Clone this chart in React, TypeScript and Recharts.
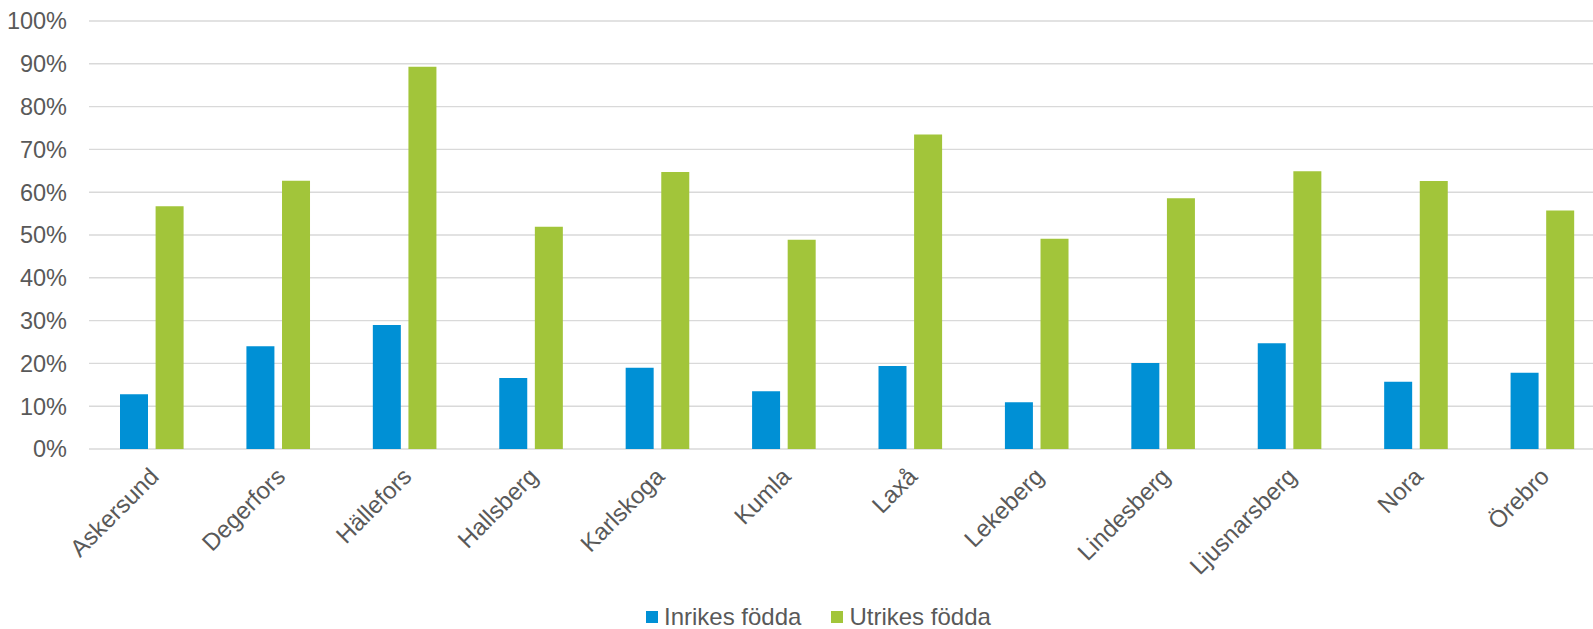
import { Bar, BarChart, CartesianGrid, Legend, XAxis, YAxis } from 'recharts';

const kommuner = [
  'Askersund',
  'Degerfors',
  'Hällefors',
  'Hallsberg',
  'Karlskoga',
  'Kumla',
  'Laxå',
  'Lekeberg',
  'Lindesberg',
  'Ljusnarsberg',
  'Nora',
  'Örebro',
];

const inrikesFodda = [0.128, 0.24, 0.29, 0.166, 0.19, 0.135, 0.194, 0.109, 0.201, 0.247, 0.157, 0.178];
const utrikesFodda = [0.567, 0.627, 0.893, 0.519, 0.647, 0.489, 0.735, 0.491, 0.586, 0.649, 0.626, 0.557];

const yTicks = [0, 0.1, 0.2, 0.3, 0.4, 0.5, 0.6, 0.7, 0.8, 0.9, 1];

const series = [
  { key: 'inrikes', name: 'Inrikes födda', color: '#0090d5' },
  { key: 'utrikes', name: 'Utrikes födda', color: '#a2c53a' },
];

const data = kommuner.map((kommun, i) => ({
  kommun,
  inrikes: inrikesFodda[i],
  utrikes: utrikesFodda[i],
}));

const FONT = '"Liberation Sans", Arial, sans-serif';
const TEXT = '#595959';

const RotatedTick = ({ x, y, payload }: any) => {
  const ax = x + 8;
  const ay = y + 29;
  return (
    <text
      x={ax}
      y={ay}
      textAnchor='end'
      transform={`rotate(-45 ${ax} ${ay})`}
      fill={TEXT}
      fontSize={24}
      fontFamily={FONT}
    >
      {payload.value}
    </text>
  );
};

const LegendRow = () => (
  <div style={{ display: 'flex', alignItems: 'center', fontFamily: FONT, fontSize: 24, color: TEXT, lineHeight: 0.85, whiteSpace: 'nowrap' }}>
    {series.map((s, i) => (
      <div key={s.key} style={{ display: 'flex', alignItems: 'center', marginRight: i === 0 ? 30 : 0 }}>
        <span style={{ display: 'inline-block', width: 12, height: 12, background: s.color, marginRight: 6 }} />
        <span>{s.name}</span>
      </div>
    ))}
  </div>
);

export default function App() {
  return (
    <div style={{ position: 'absolute', left: 0, top: 0, width: 1593, height: 629, overflow: 'hidden', background: '#fff' }}>
      <BarChart
        width={1610}
        height={629}
        data={data}
        margin={{ top: 21, right: 4, left: 0, bottom: 0 }}
        barCategoryGap={31}
        barGap={7.6}
      >
        <CartesianGrid vertical={false} stroke='#d9d9d9' strokeWidth={1.4} />
        <XAxis
          dataKey='kommun'
          height={180}
          interval={0}
          tickLine={false}
          axisLine={false}
          tickSize={0}
          tickMargin={0}
          tick={<RotatedTick />}
        />
        <YAxis
          width={89}
          domain={[0, 1]}
          ticks={yTicks}
          tickFormatter={(v: number) => `${Math.round(v * 100)}%`}
          tickLine={false}
          axisLine={false}
          tickSize={0}
          tickMargin={22}
          tick={{ fill: TEXT, fontSize: 23.5, fontFamily: FONT }}
        />
        <Legend
          layout='horizontal'
          verticalAlign='middle'
          align='center'
          content={() => <LegendRow />}
          wrapperStyle={{ position: 'absolute', left: 646, top: 607, width: 'auto' }}
        />
        {series.map((s) => (
          <Bar key={s.key} dataKey={s.key} name={s.name} fill={s.color} isAnimationActive={false} />
        ))}
      </BarChart>
    </div>
  );
}
